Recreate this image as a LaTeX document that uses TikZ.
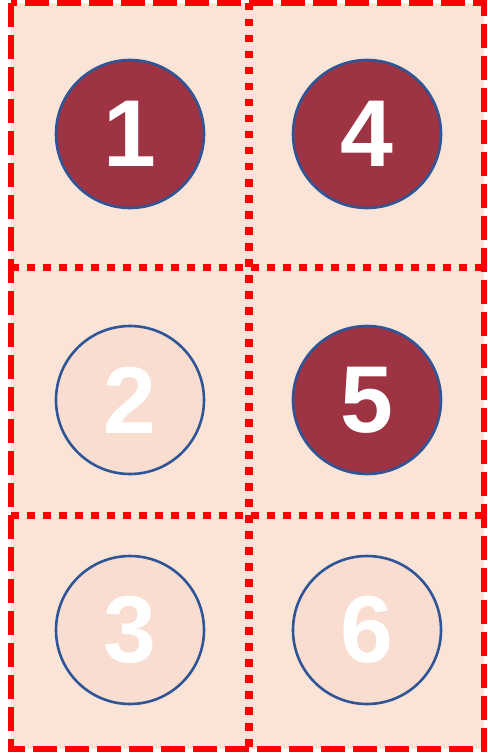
\documentclass[tikz,border=0pt]{standalone}
\usepackage{fontspec}
\setmainfont{Liberation Sans}
\definecolor{bgpeach}{HTML}{FAE4D7}
\definecolor{darkred}{HTML}{9D3343}
\definecolor{lightpeach}{HTML}{F8DDD0}
\definecolor{edgeblue}{HTML}{2F5597}
\definecolor{brightred}{HTML}{FF0000}
\tikzset{
  numcircle/.style={circle, draw=edgeblue, line width=2.6pt, minimum size=148pt, inner sep=0pt,
    text=white, font=\fontsize{95}{95}\selectfont\bfseries},
  active/.style={numcircle, fill=darkred},
  inactive/.style={numcircle, fill=lightpeach},
  outerline/.style={draw=brightred, line width=6pt, dash pattern=on 24pt off 8pt},
  gridline/.style={draw=brightred, line width=7.5pt, dash pattern=on 7.5pt off 8.5pt}
}
\begin{document}
\begin{tikzpicture}[x=1pt, y=-1pt]
\useasboundingbox (0,0) rectangle (487,754);
\fill[white] (0,0) rectangle (487,754);
\fill[bgpeach] (11,3) rectangle (484,749);
% grid
\coordinate (vt) at (249,3);
\coordinate (vb) at (249,749);
\coordinate (h1l) at (11,267.5);
\coordinate (h1r) at (484,267.5);
\coordinate (h2l) at (11,515.5);
\coordinate (h2r) at (484,515.5);
\draw[gridline] (vt) -- (vb);
\draw[gridline] (h1l) -- (h1r);
\draw[gridline] (h2l) -- (h2r);
\draw[outerline] (11,3) rectangle (484,749);
% circles
\node[active] (c1) at (130,134) {1};
\node[inactive] (c2) at (130,400) {2};
\node[inactive] (c3) at (130,630) {3};
\node[active] (c4) at (367,134) {4};
\node[active] (c5) at (367,400) {5};
\node[inactive] (c6) at (367,630) {6};
\end{tikzpicture}
\end{document}
